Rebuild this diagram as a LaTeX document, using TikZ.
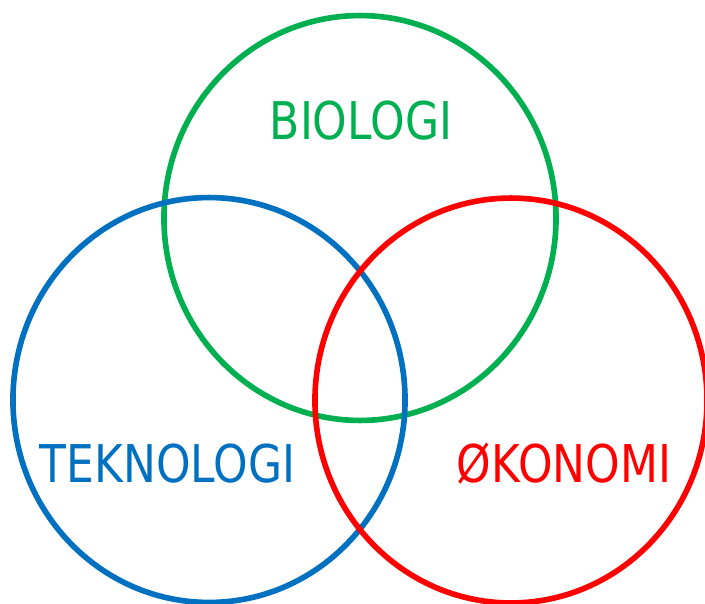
\documentclass[tikz,border=0pt]{standalone}
\usepackage{fontspec}
\newfontfamily\setfont[FakeStretch=0.845]{DejaVu Sans}
\usetikzlibrary{shapes,positioning}
\definecolor{biogreen}{HTML}{00B050}
\definecolor{tekblue}{HTML}{0070C0}
\definecolor{okored}{HTML}{FF0000}
\tikzset{
    set/.style = { draw, ellipse, line width=4pt,
        minimum width = 9.8cm,
        minimum height = 10.12cm,
        inner sep = 0pt
    },
    setname/.style = { align=center,
        font=\setfont\fontsize{37}{40}\selectfont
    }
}
\begin{document}
\begin{tikzpicture}[x=0.025cm, y=-0.025cm]
        \useasboundingbox (0,0) rectangle (705,604);
        \clip (0,0) rectangle (705,604);

        % the three sets...
        \node[set, biogreen] (bio) at (360,218) {};
        \node[set, tekblue] (tek) at (209,400) {};
        \node[set, okored] (oko) at (511,400.5) {};

        % names...
        \node[setname, text=biogreen] (bion) at (361,121) {BIOLOGI};
        \node[setname, text=tekblue] (tekn) at (167.5,464) {TEKNOLOGI};
        \node[setname, text=okored] (okon) at (564,464) {ØKONOMI};
\end{tikzpicture}
\end{document}
